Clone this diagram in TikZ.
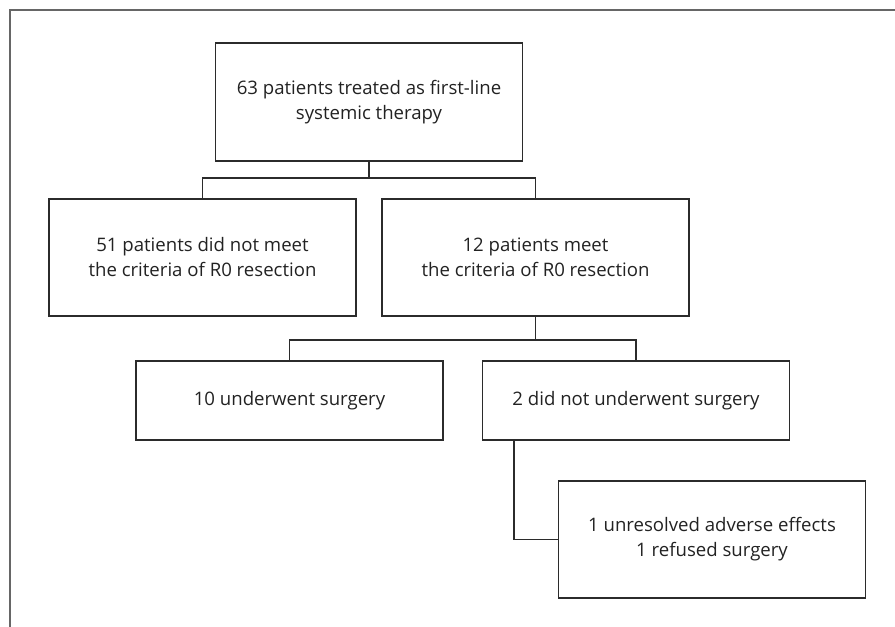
\documentclass[tikz,border=0pt]{standalone}
\usepackage{fontspec}
\setmainfont{Open Sans}
\usepackage{tikz}
\usetikzlibrary{positioning}

\definecolor{framegray}{HTML}{666666}
\definecolor{boxline}{HTML}{2B2B2B}
\definecolor{txtgray}{HTML}{222222}

\tikzset{
    flowbox/.style={draw=boxline, line width=1.5, text=txtgray, align=center,
        minimum width=307, inner sep=0pt, font=\fontsize{18.6}{25}\selectfont},
    link/.style={draw=boxline, line width=1.5}
}

\begin{document}
\begin{tikzpicture}[x=1pt,y=1pt,yscale=-1]
    \useasboundingbox (0,0) rectangle (895,627);

    % frame
    \draw [framegray, line width=2] (10,627) -- (10,10) -- (895,10);

    % boxes
    \node [flowbox, minimum height=118] (total) at (369,102) {63 patients treated as first-line\\systemic therapy};
    \node [flowbox, minimum height=117] (notmeet) at (202.5,257.5) {51 patients did not meet\\the criteria of R0 resection};
    \node [flowbox, minimum height=117] (meet) at (535.5,257.5) {12 patients meet\\the criteria of R0 resection};
    \node [flowbox, minimum height=79] (surgery) at (289.5,400.5) {10 underwent surgery};
    \node [flowbox, minimum height=79] (nosurgery) at (636,400.5) {2 did not underwent surgery};
    \node [flowbox, minimum height=117] (reasons) at (712,539.5) {1 unresolved adverse effects\\1 refused surgery};

    % split points
    \coordinate (split1) at (369,178);
    \coordinate (split2) at (535.5,340);

    % connectors
    \draw [link] (total.south) -- (split1);
    \draw [link] (notmeet.north) |- (split1) -| (meet.north);
    \draw [link] (meet.south) -- (split2);
    \draw [link] (surgery.north) |- (split2) -| (nosurgery.north);
    \draw [link] ([xshift=32pt]nosurgery.south west) |- (reasons.west);
\end{tikzpicture}
\end{document}
